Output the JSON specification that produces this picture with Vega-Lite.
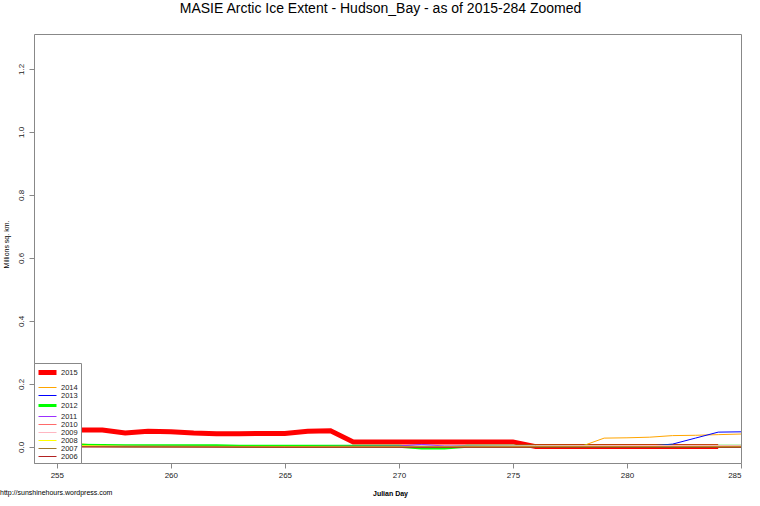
{
  "$schema": "https://vega.github.io/schema/vega-lite/v6.json",
  "autosize": "none",
  "width": 707,
  "height": 429,
  "padding": {"left": 34, "top": 34, "right": 19, "bottom": 43},
  "background": "white",
  "config": {
    "font": "Liberation Sans",
    "view": {"stroke": "#888888", "strokeWidth": 1},
    "axis": {"grid": false, "domain": false, "tickColor": "#888888", "tickSize": 5, "labelFont": "Liberation Sans", "labelFontSize": 8, "labelColor": "#222222", "titleFont": "Liberation Sans"},
    "legend": {"orient": "bottom-left", "offset": 0, "padding": 3, "strokeColor": "#888888", "fillColor": "white", "labelFontSize": 7.5, "labelFont": "Liberation Sans", "labelColor": "#222222", "symbolType": "M-2.25,0H2.25", "symbolSize": 64, "symbolOffset": 4, "rowPadding": 0, "labelOffset": 7}
  },
  "title": {
    "text": "MASIE Arctic Ice Extent - Hudson_Bay - as of 2015-284 Zoomed",
    "font": "Liberation Sans",
    "fontSize": 14,
    "fontWeight": "normal",
    "anchor": "middle",
    "offset": 18,
    "dx": -7,
    "color": "black"
  },
  "data": {"values": [
    {"year": 2015, "day": 254, "extent": 0.054}, {"year": 2015, "day": 255, "extent": 0.054}, {"year": 2015, "day": 256, "extent": 0.054}, {"year": 2015, "day": 257, "extent": 0.054},
    {"year": 2015, "day": 258, "extent": 0.044}, {"year": 2015, "day": 259, "extent": 0.050}, {"year": 2015, "day": 260, "extent": 0.048}, {"year": 2015, "day": 261, "extent": 0.044},
    {"year": 2015, "day": 262, "extent": 0.042}, {"year": 2015, "day": 263, "extent": 0.042}, {"year": 2015, "day": 264, "extent": 0.043}, {"year": 2015, "day": 265, "extent": 0.043},
    {"year": 2015, "day": 266, "extent": 0.050}, {"year": 2015, "day": 267, "extent": 0.051}, {"year": 2015, "day": 268, "extent": 0.016}, {"year": 2015, "day": 269, "extent": 0.016},
    {"year": 2015, "day": 270, "extent": 0.016}, {"year": 2015, "day": 271, "extent": 0.016}, {"year": 2015, "day": 272, "extent": 0.016}, {"year": 2015, "day": 273, "extent": 0.016},
    {"year": 2015, "day": 274, "extent": 0.016}, {"year": 2015, "day": 275, "extent": 0.016}, {"year": 2015, "day": 276, "extent": 0.001}, {"year": 2015, "day": 277, "extent": 0.001},
    {"year": 2015, "day": 278, "extent": 0.001}, {"year": 2015, "day": 279, "extent": 0.001}, {"year": 2015, "day": 280, "extent": 0.001}, {"year": 2015, "day": 281, "extent": 0.001},
    {"year": 2015, "day": 282, "extent": 0.001}, {"year": 2015, "day": 283, "extent": 0.001}, {"year": 2015, "day": 284, "extent": 0.001},
    {"year": 2014, "day": 254, "extent": 0.013}, {"year": 2014, "day": 255, "extent": 0.012}, {"year": 2014, "day": 256, "extent": 0.010}, {"year": 2014, "day": 257, "extent": 0.004},
    {"year": 2014, "day": 258, "extent": 0.003}, {"year": 2014, "day": 260, "extent": 0.003}, {"year": 2014, "day": 262, "extent": 0.003}, {"year": 2014, "day": 264, "extent": 0.002},
    {"year": 2014, "day": 266, "extent": 0.002}, {"year": 2014, "day": 268, "extent": 0.002}, {"year": 2014, "day": 270, "extent": 0.002}, {"year": 2014, "day": 272, "extent": 0.002},
    {"year": 2014, "day": 274, "extent": 0.002}, {"year": 2014, "day": 276, "extent": 0.002}, {"year": 2014, "day": 278, "extent": 0.002}, {"year": 2014, "day": 279, "extent": 0.028},
    {"year": 2014, "day": 280, "extent": 0.029}, {"year": 2014, "day": 281, "extent": 0.031}, {"year": 2014, "day": 282, "extent": 0.036}, {"year": 2014, "day": 283, "extent": 0.037},
    {"year": 2014, "day": 284, "extent": 0.039}, {"year": 2014, "day": 285, "extent": 0.041},
    {"year": 2013, "day": 254, "extent": 0.002}, {"year": 2013, "day": 258, "extent": 0.002}, {"year": 2013, "day": 262, "extent": 0.001}, {"year": 2013, "day": 266, "extent": 0.001},
    {"year": 2013, "day": 270, "extent": 0.002}, {"year": 2013, "day": 274, "extent": 0.002}, {"year": 2013, "day": 278, "extent": 0.002}, {"year": 2013, "day": 281, "extent": 0.003},
    {"year": 2013, "day": 282, "extent": 0.009}, {"year": 2013, "day": 283, "extent": 0.028}, {"year": 2013, "day": 284, "extent": 0.047}, {"year": 2013, "day": 285, "extent": 0.048},
    {"year": 2012, "day": 254, "extent": 0.005}, {"year": 2012, "day": 256, "extent": 0.005}, {"year": 2012, "day": 258, "extent": 0.004}, {"year": 2012, "day": 260, "extent": 0.004},
    {"year": 2012, "day": 262, "extent": 0.004}, {"year": 2012, "day": 263, "extent": 0.002}, {"year": 2012, "day": 266, "extent": 0.002}, {"year": 2012, "day": 270, "extent": 0.002},
    {"year": 2012, "day": 271, "extent": -0.003}, {"year": 2012, "day": 272, "extent": -0.003}, {"year": 2012, "day": 273, "extent": 0.002}, {"year": 2012, "day": 277, "extent": 0.002},
    {"year": 2012, "day": 281, "extent": 0.002}, {"year": 2012, "day": 285, "extent": 0.002},
    {"year": 2011, "day": 254, "extent": 0.002}, {"year": 2011, "day": 260, "extent": 0.002}, {"year": 2011, "day": 265, "extent": 0.001}, {"year": 2011, "day": 270, "extent": 0.003},
    {"year": 2011, "day": 271, "extent": 0.008}, {"year": 2011, "day": 272, "extent": 0.003}, {"year": 2011, "day": 278, "extent": 0.002}, {"year": 2011, "day": 285, "extent": 0.002},
    {"year": 2010, "day": 254, "extent": 0.004}, {"year": 2010, "day": 257, "extent": 0.002}, {"year": 2010, "day": 265, "extent": 0.001}, {"year": 2010, "day": 275, "extent": 0.001},
    {"year": 2010, "day": 280, "extent": 0.002}, {"year": 2010, "day": 285, "extent": 0.003},
    {"year": 2009, "day": 254, "extent": 0.003}, {"year": 2009, "day": 260, "extent": 0.001}, {"year": 2009, "day": 270, "extent": 0.001}, {"year": 2009, "day": 276, "extent": 0.004},
    {"year": 2009, "day": 285, "extent": 0.005},
    {"year": 2008, "day": 254, "extent": 0.008}, {"year": 2008, "day": 255, "extent": 0.007}, {"year": 2008, "day": 256, "extent": 0.004}, {"year": 2008, "day": 258, "extent": 0.002},
    {"year": 2008, "day": 270, "extent": 0.001}, {"year": 2008, "day": 285, "extent": 0.001},
    {"year": 2007, "day": 254, "extent": 0.001}, {"year": 2007, "day": 265, "extent": 0.000}, {"year": 2007, "day": 275, "extent": 0.000}, {"year": 2007, "day": 285, "extent": 0.000},
    {"year": 2006, "day": 254, "extent": 0.000}, {"year": 2006, "day": 265, "extent": -0.001}, {"year": 2006, "day": 275, "extent": -0.001}, {"year": 2006, "day": 285, "extent": -0.001}
  ]},
  "encoding": {
    "x": {
      "field": "day", "type": "quantitative",
      "scale": {"domain": [254, 285], "nice": false, "zero": false},
      "axis": {"values": [255, 260, 265, 270, 275, 280, 285], "labelPadding": 3, "title": "Julian Day", "titleFontSize": 7, "titleFontWeight": "bold", "titleColor": "black", "titleX": 356, "titleY": 30, "titleAlign": "center", "titleBaseline": "middle"}
    },
    "y": {
      "field": "extent", "type": "quantitative",
      "scale": {"domain": [-0.051, 1.311], "nice": false, "zero": false},
      "axis": {"values": [0, 0.2, 0.4, 0.6, 0.8, 1.0, 1.2], "format": ".1f", "labelAngle": 270, "labelAlign": "center", "labelBaseline": "bottom", "labelPadding": 4, "title": "Millions sq. km.", "titleFontSize": 7, "titleFontWeight": "normal", "titleColor": "black", "titleAngle": 270, "titleX": -28, "titleY": 210, "titleAlign": "center", "titleBaseline": "middle"}
    }
  },
  "layer": [
    {
      "transform": [{"filter": "datum.year == 2015"}],
      "mark": {"type": "line", "clip": true},
      "encoding": {
        "color": {"field": "year", "type": "ordinal", "title": null,
          "scale": {"type": "ordinal", "domain": [2015, 2014, 2013, 2012, 2011, 2010, 2009, 2008, 2007, 2006],
                    "range": ["#FF0000", "#FFA500", "#0000FF", "#00FF00", "#9B30FF", "#FF6A6A", "#FFB6C1", "#FFFF00", "#A0782D", "#B22222"]}},
        "strokeWidth": {"field": "year", "type": "ordinal", "title": null,
          "scale": {"type": "ordinal", "domain": [2015, 2014, 2013, 2012, 2011, 2010, 2009, 2008, 2007, 2006],
                    "range": [5, 1, 1, 3, 1, 1, 1, 1, 1, 1]}}
      }
    },
    {
      "transform": [{"filter": "datum.year != 2015"}],
      "mark": {"type": "line", "clip": true},
      "encoding": {
        "color": {"field": "year", "type": "ordinal", "title": null,
          "scale": {"type": "ordinal", "domain": [2015, 2014, 2013, 2012, 2011, 2010, 2009, 2008, 2007, 2006],
                    "range": ["#FF0000", "#FFA500", "#0000FF", "#00FF00", "#9B30FF", "#FF6A6A", "#FFB6C1", "#FFFF00", "#A0782D", "#B22222"]}},
        "strokeWidth": {"field": "year", "type": "ordinal", "title": null,
          "scale": {"type": "ordinal", "domain": [2015, 2014, 2013, 2012, 2011, 2010, 2009, 2008, 2007, 2006],
                    "range": [5, 1, 1, 3, 1, 1, 1, 1, 1, 1]}}
      }
    },
    {
      "data": {"values": [{"day": 254, "extent": -0.146, "label": "http://sunshinehours.wordpress.com"}]},
      "mark": {"type": "text", "align": "left", "baseline": "middle", "dx": -34, "fontSize": 7, "color": "black", "clip": false},
      "encoding": {"text": {"field": "label"}}
    }
  ]
}
